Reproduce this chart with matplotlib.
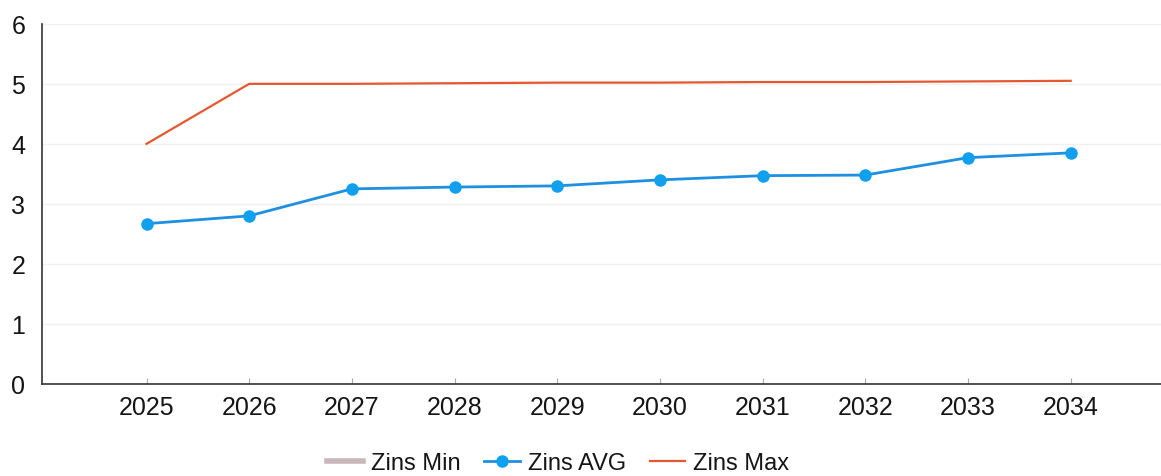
import matplotlib.pyplot as plt
import numpy as np

plt.rcParams['font.family'] = ['Liberation Sans', 'DejaVu Sans']

years = [2025, 2026, 2027, 2028, 2029, 2030, 2031, 2032, 2033, 2034]
zins_min = [np.nan] * len(years)
zins_avg = [2.67, 2.80, 3.25, 3.28, 3.30, 3.40, 3.47, 3.48, 3.77, 3.85]
zins_max = [4.00, 5.00, 5.00, 5.01, 5.02, 5.02, 5.03, 5.03, 5.04, 5.05]

fig = plt.figure(figsize=(11.61, 4.77), dpi=100)
ax = fig.add_axes([0.036, 0.193, 0.964, 0.755])

ax.plot(years, zins_min, color='#c9b6ba', linewidth=4, label='Zins Min')
ax.plot(years, zins_avg, color='#1f8fe0', linewidth=2, marker='o',
        markersize=8, markerfacecolor='#10a0ee', markeredgecolor='#10a0ee',
        label='Zins AVG')
ax.plot(years, zins_max, color='#e5582f', linewidth=1.6, label='Zins Max')

ax.set_xlim(2023.98, 2034.88)
ax.set_ylim(0, 6)
ax.set_xticks(years)
ax.set_yticks(range(0, 7))

ax.grid(axis='y', color='#f0f0f0', linewidth=1)
ax.set_axisbelow(True)
for side in ['top', 'right']:
    ax.spines[side].set_visible(False)
ax.spines['left'].set_color('#333333')
ax.spines['bottom'].set_color('#333333')
ax.spines['left'].set_linewidth(1.2)
ax.spines['bottom'].set_linewidth(1.2)

ax.tick_params(axis='x', direction='in', length=4, color='#aaaaaa',
               labelsize=18, pad=8, labelcolor='#151515')
ax.tick_params(axis='y', length=0, labelsize=18, pad=12, labelcolor='#151515')

fig.legend(*ax.get_legend_handles_labels(), loc='center',
           bbox_to_anchor=(0.481, 0.027), ncol=3, frameon=False,
           fontsize=17, handlelength=1.5, columnspacing=1.0,
           handletextpad=0.35, labelcolor='#151515')

plt.savefig('out.png')
